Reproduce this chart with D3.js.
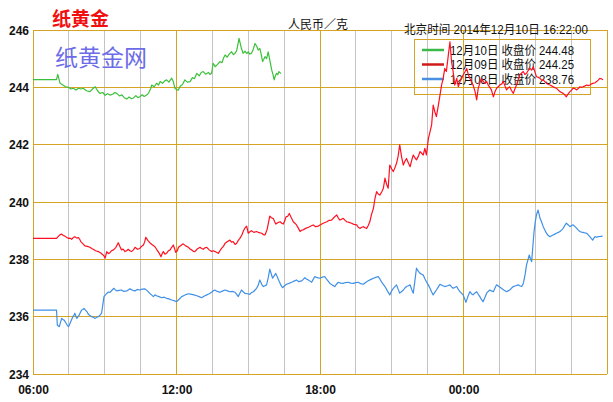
<!DOCTYPE html>
<html><head><meta charset="utf-8">
<script src="https://cdn.jsdelivr.net/npm/d3@7"></script>
<style>
html,body{margin:0;padding:0;background:#fff;}
svg{display:block;}
</style>
</head><body>
<svg id="c" width="613" height="402"></svg>
<script>
// ---- data (minutes after 06:00, price) ----
const yTicks = [234, 236, 238, 240, 242, 244, 246];
const xTickMinutes = [0, 360, 720, 1080];
const xTickLabels = ["06:00", "12:00", "18:00", "00:00"];
const seriesNames = ["12月10日 收盘价 244.48", "12月09日 收盘价 244.25", "12月08日 收盘价 238.76"];
const seriesColors = ["#3cc03c", "#ff1020", "#3f90e6"];
const legendColors = ["#3cb84a", "#d01a1a", "#4a90e0"];

const green = [[0,244.27],[59,244.27],[62,244.45],[68,244.14],[75,244.08],[82,244.02],[89,244.0],[95,243.94],[101,243.97],[108,243.91],[114,243.97],[120,243.94],[126,243.97],[134,243.88],[143,243.85],[150,243.95],[156,244.02],[162,243.88],[168,243.79],[175,243.82],[181,243.72],[187,243.78],[193,243.73],[200,243.76],[205,243.82],[210,243.79],[217,243.7],[223,243.74],[229,243.64],[235,243.59],[241,243.66],[247,243.6],[252,243.63],[258,243.71],[263,243.64],[268,243.67],[274,243.74],[279,243.68],[285,243.73],[290,243.8],[295,243.95],[298,244.08],[304,244.02],[310,244.14],[315,244.08],[319,244.2],[325,244.14],[330,244.22],[335,244.26],[341,244.18],[348,244.32],[352,244.2],[356,243.97],[360,243.92],[364,243.9],[370,244.05],[375,244.1],[381,244.26],[387,244.18],[394,244.2],[400,244.34],[405,244.3],[411,244.49],[417,244.4],[422,244.52],[427,244.55],[433,244.46],[440,244.52],[444,244.45],[448,244.49],[452,244.84],[457,244.72],[463,244.8],[469,244.9],[474,244.86],[478,245.02],[482,245.13],[487,245.05],[492,245.16],[498,245.24],[503,245.14],[507,245.19],[511,245.28],[517,245.71],[522,245.4],[527,245.19],[532,245.26],[536,245.18],[540,245.24],[544,245.16],[548,245.19],[552,245.3],[557,245.53],[561,245.44],[565,245.3],[569,245.36],[573,245.12],[576,244.9],[579,244.98],[582,245.07],[586,245.0],[590,245.24],[594,244.95],[599,244.6],[602,244.45],[605,244.26],[608,244.4],[611,244.49],[614,244.44],[617,244.55],[622,244.48]];

const red = [[0,238.73],[59,238.73],[64,238.81],[68,238.86],[72,238.88],[76,238.83],[80,238.81],[85,238.76],[89,238.73],[93,238.74],[97,238.70],[101,238.76],[105,238.79],[110,238.74],[114,238.76],[117,238.7],[120,238.62],[125,238.55],[130,238.47],[136,238.45],[143,238.42],[147,238.38],[151,238.35],[157,238.3],[164,238.27],[170,238.22],[176,238.15],[179,238.1],[181,238.04],[185,238.27],[189,238.2],[193,238.23],[197,238.3],[202,238.33],[208,238.42],[214,238.58],[218,238.45],[222,238.33],[226,238.36],[231,238.27],[235,238.3],[239,238.35],[243,238.3],[247,238.27],[252,238.33],[256,238.42],[262,238.35],[268,238.38],[272,238.45],[277,238.50],[280,238.6],[283,238.77],[288,238.66],[293,238.58],[300,238.5],[306,238.44],[310,238.35],[314,238.27],[318,238.18],[321,238.09],[324,238.2],[327,238.27],[331,238.18],[335,238.21],[340,238.3],[344,238.33],[348,238.42],[352,238.50],[355,238.38],[358,238.24],[362,238.3],[365,238.42],[371,238.48],[377,238.54],[383,238.47],[390,238.42],[394,238.36],[398,238.33],[402,238.28],[406,238.27],[412,238.36],[419,238.42],[423,238.38],[427,238.35],[431,238.4],[436,238.42],[442,238.33],[448,238.27],[452,238.3],[457,238.27],[461,238.24],[465,238.21],[469,238.3],[473,238.38],[478,238.46],[482,238.56],[488,238.62],[494,238.67],[498,238.6],[502,238.62],[507,238.52],[511,238.56],[515,238.66],[519,238.73],[524,238.85],[528,239.00],[532,239.1],[536,239.16],[540,238.91],[544,238.96],[548,239.00],[554,238.94],[561,238.97],[567,238.93],[574,238.91],[578,238.86],[582,238.85],[585,238.95],[588,239.08],[591,239.3],[594,239.51],[598,239.45],[603,239.42],[606,239.32],[609,239.23],[614,239.28],[620,239.31],[624,239.26],[628,239.23],[632,239.36],[635,239.49],[639,239.5],[643,239.60],[648,239.45],[653,239.31],[657,239.26],[661,239.20],[666,239.08],[670,238.97],[674,239.02],[678,239.03],[684,239.08],[691,239.12],[697,239.16],[703,239.20],[709,239.14],[716,239.16],[720,239.2],[728,239.26],[737,239.31],[743,239.36],[749,239.37],[755,239.46],[762,239.55],[766,239.44],[770,239.37],[774,239.4],[778,239.43],[783,239.36],[787,239.31],[793,239.29],[799,239.26],[805,239.22],[812,239.2],[816,239.12],[820,239.08],[825,239.12],[829,239.14],[833,239.1],[837,239.08],[841,239.18],[845,239.31],[849,239.55],[854,239.78],[858,240.13],[862,240.36],[866,240.28],[870,240.24],[875,240.36],[879,240.48],[883,240.83],[887,240.62],[891,240.48],[895,241.29],[900,241.15],[904,241.06],[908,241.2],[912,241.35],[916,241.6],[920,241.99],[925,241.55],[929,241.29],[933,241.42],[937,241.52],[942,241.35],[946,241.23],[950,241.45],[954,241.64],[958,241.55],[962,241.47],[967,241.6],[971,241.76],[975,241.7],[979,241.64],[983,241.87],[987,241.64],[992,242.22],[996,242.45],[1000,242.69],[1004,243.38],[1008,243.15],[1012,242.98],[1017,243.38],[1021,243.73],[1025,244.08],[1029,244.31],[1033,244.66],[1037,244.55],[1042,245.13],[1046,245.59],[1050,244.9],[1054,244.55],[1058,244.08],[1063,244.31],[1067,244.02],[1071,244.2],[1075,244.3],[1079,244.43],[1084,244.55],[1088,244.66],[1092,244.45],[1096,244.31],[1100,244.2],[1104,244.08],[1109,243.85],[1113,243.56],[1117,243.97],[1121,244.15],[1125,244.31],[1130,244.2],[1134,244.14],[1138,244.2],[1142,244.08],[1146,244.0],[1150,243.91],[1155,243.67],[1159,243.85],[1163,243.97],[1167,244.02],[1171,244.08],[1176,244.12],[1180,244.2],[1184,244.05],[1188,243.91],[1192,243.98],[1196,244.02],[1200,243.9],[1205,243.79],[1209,243.95],[1213,244.08],[1217,244.25],[1221,244.43],[1226,244.5],[1230,244.55],[1234,244.45],[1238,244.49],[1242,244.58],[1247,244.66],[1251,244.6],[1255,244.72],[1259,244.55],[1263,244.37],[1268,244.35],[1272,244.31],[1276,244.25],[1280,244.26],[1284,244.2],[1288,244.14],[1293,244.1],[1297,244.08],[1301,244.05],[1305,244.02],[1309,243.99],[1313,243.97],[1318,243.9],[1322,243.85],[1326,243.82],[1330,243.79],[1334,243.74],[1338,243.67],[1343,243.78],[1347,243.85],[1351,243.9],[1355,243.97],[1360,243.95],[1364,243.91],[1368,243.96],[1372,244.02],[1376,244.0],[1380,244.02],[1385,244.05],[1389,244.08],[1393,244.06],[1397,244.08],[1401,244.12],[1405,244.14],[1410,244.16],[1414,244.2],[1418,244.25],[1422,244.31],[1426,244.3],[1430,244.26]];

const blue = [[0,236.23],[59,236.23],[61,235.71],[63,235.68],[66,235.65],[69,235.8],[72,235.94],[75,235.9],[78,235.88],[81,235.82],[83,235.77],[86,235.7],[89,235.65],[91,235.7],[93,235.77],[97,235.9],[100,236.0],[103,236.05],[105,236.12],[108,236.0],[110,235.94],[113,236.0],[116,236.06],[119,236.15],[122,236.23],[125,236.25],[128,236.29],[132,236.22],[135,236.18],[138,236.1],[141,236.06],[144,236.03],[147,236.0],[152,235.97],[156,235.94],[160,235.98],[164,236.0],[168,236.05],[172,236.12],[175,236.4],[178,236.7],[182,236.76],[185,236.81],[189,236.86],[193,236.85],[198,236.92],[203,236.99],[206,236.94],[210,236.9],[216,236.92],[222,236.93],[228,236.88],[235,236.9],[239,236.93],[243,236.97],[250,236.92],[256,236.9],[262,236.95],[268,236.93],[274,236.96],[281,236.97],[287,236.9],[293,236.81],[298,236.75],[302,236.7],[306,236.76],[310,236.73],[316,236.7],[323,236.66],[329,236.68],[335,236.64],[341,236.62],[348,236.58],[354,236.56],[360,236.52],[366,236.6],[373,236.7],[379,236.74],[385,236.78],[391,236.8],[398,236.78],[404,236.76],[411,236.73],[417,236.7],[423,236.66],[430,236.72],[436,236.76],[442,236.8],[448,236.85],[452,236.9],[456,236.93],[462,236.88],[469,236.85],[476,236.9],[482,236.93],[488,236.9],[494,236.87],[500,236.88],[507,236.85],[511,236.78],[515,236.7],[519,236.82],[523,236.93],[528,236.86],[532,236.81],[538,236.8],[544,236.78],[548,236.84],[553,236.87],[557,236.93],[561,236.99],[565,237.1],[569,237.28],[574,237.12],[578,237.05],[582,237.08],[586,237.11],[590,237.35],[594,237.66],[598,237.48],[601,237.34],[605,237.42],[609,237.51],[614,237.35],[618,237.22],[622,237.1],[626,237.01],[631,237.08],[636,237.13],[642,237.16],[649,237.2],[655,237.24],[661,237.28],[667,237.22],[674,237.25],[678,237.3],[682,237.36],[687,237.3],[691,237.28],[695,237.24],[699,237.2],[703,237.3],[707,237.4],[713,237.36],[720,237.34],[726,237.38],[732,237.4],[738,237.28],[745,237.16],[751,237.1],[757,237.05],[762,237.14],[766,237.2],[772,237.17],[778,237.16],[784,237.19],[791,237.2],[797,237.17],[803,237.16],[810,237.19],[816,237.2],[822,237.15],[829,237.13],[835,237.2],[841,237.25],[848,237.3],[854,237.34],[860,237.37],[866,237.4],[870,237.32],[874,237.22],[878,237.14],[883,237.05],[889,236.9],[895,236.76],[899,236.88],[904,236.99],[908,237.05],[912,237.11],[916,236.96],[920,236.82],[925,236.88],[929,236.93],[933,237.0],[937,237.05],[942,237.08],[946,237.11],[950,236.95],[954,236.82],[958,237.25],[962,237.69],[967,237.58],[971,237.51],[975,237.48],[979,237.45],[983,237.32],[987,237.22],[992,237.1],[996,236.99],[1000,236.86],[1004,236.76],[1008,236.85],[1012,236.93],[1017,237.04],[1021,237.13],[1027,237.09],[1033,237.05],[1040,237.08],[1046,237.11],[1050,237.04],[1054,236.99],[1058,237.02],[1063,237.05],[1067,236.95],[1071,236.87],[1075,236.82],[1079,236.76],[1083,236.62],[1086,236.5],[1091,236.7],[1096,236.87],[1100,236.8],[1104,236.76],[1108,236.82],[1113,236.87],[1117,236.78],[1121,236.7],[1125,236.6],[1129,236.52],[1134,236.68],[1138,236.82],[1142,236.88],[1146,236.93],[1150,236.9],[1155,236.87],[1159,237.0],[1163,237.11],[1169,237.05],[1175,236.99],[1181,236.93],[1188,236.87],[1192,236.9],[1196,236.93],[1200,236.99],[1205,237.05],[1211,237.08],[1217,237.11],[1221,237.08],[1226,237.05],[1229,237.12],[1231,237.22],[1235,237.5],[1238,237.8],[1242,238.0],[1245,238.15],[1248,238.02],[1251,237.92],[1254,238.45],[1257,238.97],[1260,239.3],[1263,239.55],[1267,239.72],[1270,239.55],[1272,239.43],[1276,239.3],[1280,239.14],[1284,239.02],[1288,238.91],[1292,238.84],[1297,238.79],[1301,238.82],[1305,238.85],[1309,238.88],[1313,238.91],[1318,238.94],[1322,238.97],[1326,239.02],[1330,239.08],[1334,239.18],[1338,239.26],[1343,239.2],[1347,239.14],[1351,239.18],[1355,239.2],[1360,239.14],[1364,239.08],[1368,239.02],[1372,238.97],[1376,238.95],[1380,238.94],[1385,238.92],[1389,238.91],[1393,238.85],[1397,238.79],[1401,238.72],[1404,238.67],[1407,238.74],[1410,238.79],[1414,238.77],[1418,238.79],[1424,238.8],[1429,238.81]];

// ---- drawing ----
const svg = d3.select("#c");
const L = 33, R = 607, T = 30, B = 374;
const x = d3.scaleLinear().domain([0, 1440]).range([L, R]);
const y = d3.scaleLinear().domain([234, 246]).range([B, T]);
const gold = "#d6a424";
const gray = "#c4c4c4";

// vertical gray grid every 90 min
const minorX = d3.range(90, 1440, 90).filter(m => m % 360 !== 0);
svg.append("g").selectAll("line").data(minorX).join("line")
  .attr("x1", d => x(d)).attr("x2", d => x(d)).attr("y1", T).attr("y2", B)
  .attr("stroke", gray).attr("stroke-width", 1).attr("shape-rendering", "crispEdges");
// gold verticals every 6h
svg.append("g").selectAll("line").data(d3.range(0, 1441, 360)).join("line")
  .attr("x1", d => x(d)).attr("x2", d => x(d)).attr("y1", T).attr("y2", B)
  .attr("stroke", gold).attr("stroke-width", 1).attr("shape-rendering", "crispEdges");
// gold horizontals
svg.append("g").selectAll("line").data(yTicks).join("line")
  .attr("x1", L).attr("x2", R).attr("y1", d => y(d)).attr("y2", d => y(d))
  .attr("stroke", gold).attr("stroke-width", 1).attr("shape-rendering", "crispEdges");

// axes (labels only)
const yAxis = d3.axisLeft(y).tickValues(yTicks).tickSize(0).tickPadding(4).tickFormat(d3.format("d"));
const gy = svg.append("g").attr("transform", `translate(${L},0)`).call(yAxis);
gy.select(".domain").remove();
gy.selectAll("text").attr("font-family", "Liberation Sans, Arial, sans-serif")
  .attr("font-size", 12).attr("font-weight", "bold").attr("fill", "#111").attr("dy", "0.35em");

const xAxis = d3.axisBottom(x).tickValues(xTickMinutes).tickSize(0).tickPadding(11)
  .tickFormat((d, i) => xTickLabels[i]);
const gx = svg.append("g").attr("transform", `translate(0,${B})`).call(xAxis);
gx.select(".domain").remove();
gx.selectAll("text").attr("font-family", "Liberation Sans, Arial, sans-serif")
  .attr("font-size", 12).attr("font-weight", "bold").attr("fill", "#111");

// titles
svg.append("text").attr("x", 52).attr("y", 26).text("纸黄金")
  .attr("font-family", "Noto Sans CJK SC").attr("font-size", 19).attr("font-weight", "bold").attr("fill", "#f01010");
svg.append("text").attr("x", 288).attr("y", 29).text("人民币／克")
  .attr("font-family", "Noto Sans CJK SC").attr("font-size", 12).attr("fill", "#111");
svg.append("text").attr("x", 404).attr("y", 34).text("北京时间 2014年12月10日 16:22:00")
  .attr("font-family", "Liberation Sans, Noto Sans CJK SC").attr("font-size", 12).attr("fill", "#111")
  .attr("textLength", 184).attr("lengthAdjust", "spacingAndGlyphs");
// watermark
svg.append("text").attr("x", 55).attr("y", 66).text("纸黄金网")
  .attr("font-family", "Noto Sans CJK SC").attr("font-size", 23).attr("fill", "#6c6ce8");

// legend
const lg = svg.append("g");
lg.append("rect").attr("x", 414.5).attr("y", 39.5).attr("width", 176).attr("height", 55)
  .attr("fill", "none").attr("stroke", gold).attr("stroke-width", 1);
seriesNames.forEach((n, i) => {
  const yy = 50 + i * 14.5;
  lg.append("line").attr("x1", 422).attr("x2", 444).attr("y1", yy).attr("y2", yy)
    .attr("stroke", legendColors[i]).attr("stroke-width", 2.5);
  lg.append("text").attr("x", 450).attr("y", yy + 4.5).text(n)
    .attr("font-family", "Liberation Sans, Noto Sans CJK SC").attr("font-size", 12.5).attr("fill", "#111")
    .attr("textLength", 124).attr("lengthAdjust", "spacingAndGlyphs");
});

// series lines
const line = d3.line().x(d => x(d[0])).y(d => y(d[1]));
[green, red, blue].forEach((s, i) => {
  svg.append("path").datum(s).attr("d", line).attr("fill", "none")
    .attr("stroke", seriesColors[i]).attr("stroke-width", 1.2).attr("stroke-linejoin", "round");
});
</script>
</body></html>
